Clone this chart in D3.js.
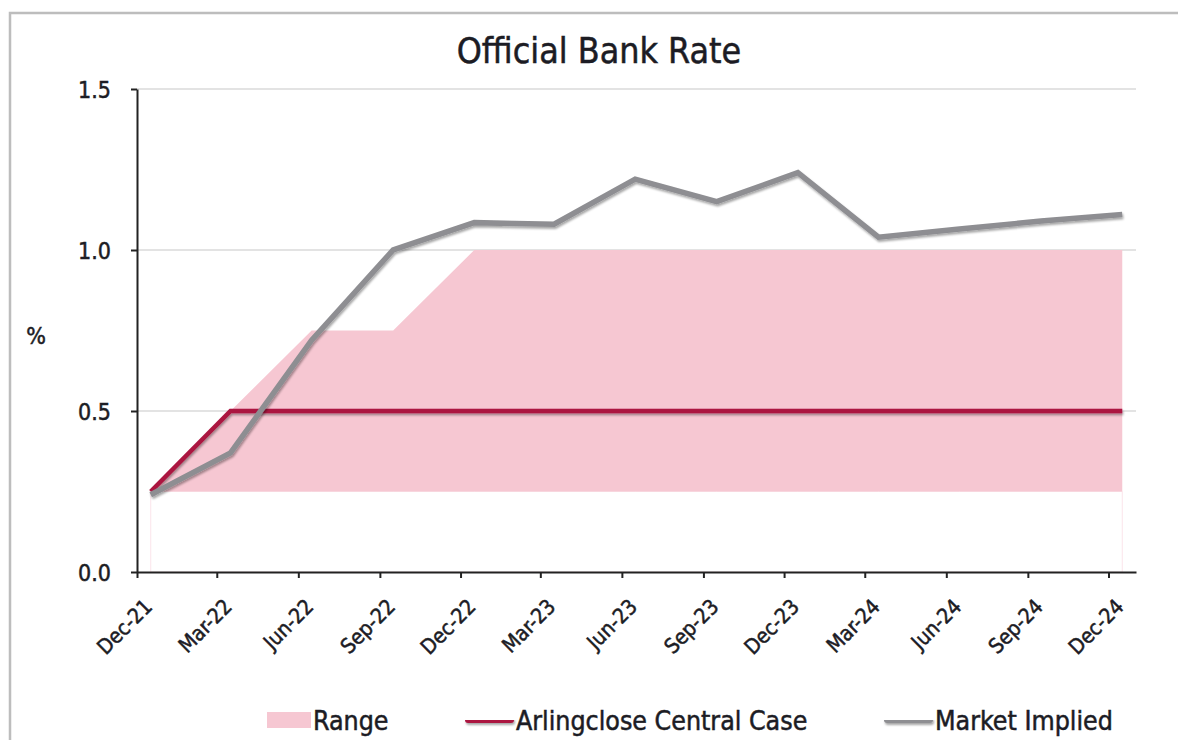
<!DOCTYPE html>
<html>
<head>
<meta charset="utf-8">
<script src="https://cdn.jsdelivr.net/npm/d3@7"></script>
<style>
  body { margin: 0; background: #fff; }
  svg { display: block; }
  text {
    font-family: "DejaVu Sans Condensed", "DejaVu Sans", sans-serif;
    font-stretch: condensed;
    fill: #1c1c24;
    stroke: #1c1c24;
    stroke-width: 0.5px;
  }
</style>
</head>
<body>
<div id="content"></div>
<script>
// quarterly values
const quarters = ["Dec-21", "Mar-22", "Jun-22", "Sep-22", "Dec-22", "Mar-23", "Jun-23",
                  "Sep-23", "Dec-23", "Mar-24", "Jun-24", "Sep-24", "Dec-24"];
const rangeLow = [0.25, 0.25, 0.25, 0.25, 0.25, 0.25, 0.25, 0.25, 0.25, 0.25, 0.25, 0.25, 0.25];
const rangeHigh = [0.25, 0.5, 0.75, 0.75, 1.0, 1.0, 1.0, 1.0, 1.0, 1.0, 1.0, 1.0, 1.0];
const centralCase = [0.25, 0.5, 0.5, 0.5, 0.5, 0.5, 0.5, 0.5, 0.5, 0.5, 0.5, 0.5, 0.5];
const marketImplied = [0.24, 0.37, 0.72, 1.0, 1.085, 1.08, 1.22, 1.15, 1.24, 1.04, 1.065, 1.09, 1.11];
const yTicks = [0, 0.5, 1.0, 1.5];
const legendLabels = ["Range", "Arlingclose Central Case", "Market Implied"];

const W = 1178, H = 740;
const margin = {top: 89, right: 42, bottom: 168, left: 137};
const width = W - margin.left - margin.right,
      height = H - margin.top - margin.bottom;

const pink = "#f6c7d2",
      red = "#ab1641",
      grey = "#8e8e92";

const parseQ = d3.timeParse("%b-%y");
const fmtQ = d3.timeFormat("%b-%y");
const tickDates = quarters.map(parseQ);
// each point sits in the middle of its month slot
const midMonth = d => new Date((+d + +d3.timeMonth.offset(d, 1)) / 2);

const data = quarters.map((q, i) => ({
    date: midMonth(tickDates[i]),
    low: rangeLow[i],
    high: rangeHigh[i],
    central: centralCase[i],
    market: marketImplied[i]
}));

const svg = d3.select("#content")
    .append("svg")
    .attr("width", W)
    .attr("height", H);

// drop shadow like the spreadsheet lines
svg.append("defs")
    .append("filter")
    .attr("id", "shadow")
    .attr("filterUnits", "userSpaceOnUse")
    .attr("x", 0).attr("y", 0).attr("width", W).attr("height", H)
    .append("feDropShadow")
    .attr("dx", 1).attr("dy", 2).attr("stdDeviation", 1.2)
    .attr("flood-color", "#000").attr("flood-opacity", 0.35);

// outer frame
svg.append("rect")
    .attr("x", 10).attr("y", 13)
    .attr("width", W + 20).attr("height", H + 20)
    .attr("fill", "none")
    .attr("stroke", "#bdbdbd")
    .attr("stroke-width", 2.5);

svg.append("text")
    .attr("x", 599).attr("y", 63)
    .attr("text-anchor", "middle")
    .style("font-size", "35.5px")
    .text("Official Bank Rate");

const g = svg.append("g")
    .attr("transform", `translate(${margin.left},${margin.top})`);

const x = d3.scaleTime()
    .domain([tickDates[0], d3.timeMonth.offset(tickDates[tickDates.length - 1], 1)])
    .range([0, width]);

const y = d3.scaleLinear()
    .domain([0, 1.5])
    .range([height, 0]);

// gridlines
g.append("g")
    .selectAll("line")
    .data(yTicks.filter(t => t > 0))
    .join("line")
    .attr("x1", 0).attr("x2", width)
    .attr("y1", d => y(d)).attr("y2", d => y(d))
    .attr("stroke", "#dadada")
    .attr("stroke-width", 1.5);

// faint outline of the hidden lower stack
const lowArea = d3.area()
    .x(d => x(d.date))
    .y0(y(0))
    .y1(d => y(d.low));

g.append("path")
    .datum(data)
    .attr("d", lowArea)
    .attr("fill", "none")
    .attr("stroke", "#fbe4ea")
    .attr("stroke-width", 1);

const rangeArea = d3.area()
    .x(d => x(d.date))
    .y0(d => y(d.low))
    .y1(d => y(d.high));

g.append("path")
    .datum(data)
    .attr("d", rangeArea)
    .attr("fill", pink);

const centralLine = d3.line()
    .x(d => x(d.date))
    .y(d => y(d.central));

const marketLine = d3.line()
    .x(d => x(d.date))
    .y(d => y(d.market));

g.append("path")
    .datum(data)
    .attr("d", centralLine)
    .attr("fill", "none")
    .attr("stroke", red)
    .attr("stroke-width", 4.5)
    .attr("filter", "url(#shadow)");

g.append("path")
    .datum(data)
    .attr("d", marketLine)
    .attr("fill", "none")
    .attr("stroke", grey)
    .attr("stroke-width", 5.5)
    .attr("filter", "url(#shadow)");

// Y axis
const yAxis = d3.axisLeft(y)
    .tickValues(yTicks)
    .tickSize(6)
    .tickSizeOuter(0)
    .tickPadding(20)
    .tickFormat(d3.format(".1f"));

const yG = g.append("g").call(yAxis);
yG.select(".domain").attr("stroke", "#222").attr("stroke-width", 2);
yG.selectAll(".tick line").attr("stroke", "#222").attr("stroke-width", 2);
yG.selectAll(".tick text")
    .style("font-size", "23px")
    .attr("dy", "0.36em")
    .attr("fill", null);

// X axis
const xAxis = d3.axisBottom(x)
    .tickValues(tickDates)
    .tickSize(6)
    .tickSizeOuter(0)
    .tickFormat(fmtQ);

const xG = g.append("g")
    .attr("transform", `translate(0,${height})`)
    .call(xAxis);
xG.select(".domain").attr("stroke", "#222").attr("stroke-width", 2);
xG.selectAll(".tick line").attr("stroke", "#222").attr("stroke-width", 2);
xG.selectAll(".tick text")
    .style("font-size", "21px")
    .attr("fill", null)
    .attr("text-anchor", "end")
    .attr("dy", null)
    .attr("y", 0)
    .attr("transform", "translate(16,36) rotate(-45)");

// y title
svg.append("text")
    .attr("x", 36).attr("y", 344)
    .attr("text-anchor", "middle")
    .style("font-size", "23px")
    .text("%");

// legend
const legend = svg.append("g").attr("transform", "translate(0,720)");
const legendItems = [
    {label: legendLabels[0], kind: "box", x: 267, color: pink},
    {label: legendLabels[1], kind: "line", x: 465, color: red},
    {label: legendLabels[2], kind: "line", x: 884, color: grey}
];

legendItems.forEach(item => {
    if (item.kind === "box") {
        legend.append("rect")
            .attr("x", item.x).attr("y", -8)
            .attr("width", 44).attr("height", 16)
            .attr("fill", item.color);
    } else {
        legend.append("rect")
            .attr("x", item.x).attr("y", -3)
            .attr("width", 49).attr("height", 6)
            .attr("rx", 3)
            .attr("fill", item.color)
            .attr("filter", "url(#shadow)");
    }
    legend.append("text")
        .attr("x", item.x + (item.kind === "box" ? 46 : 51))
        .attr("y", 10)
        .style("font-size", "26.5px")
        .text(item.label);
});
</script>
</body>
</html>
